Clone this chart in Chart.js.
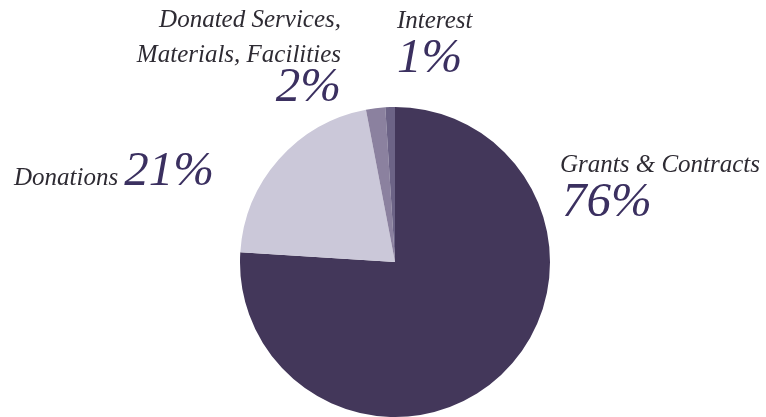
<!DOCTYPE html>
<html>
<head>
<meta charset="utf-8">
<script src="https://cdn.jsdelivr.net/npm/chart.js@4"></script>
<style>
  html, body { margin: 0; padding: 0; background: #ffffff; }
  #wrap { width: 766px; height: 417px; position: relative; }
</style>
</head>
<body>
<div id="wrap"><canvas id="pie"></canvas></div>
<script>
// Revenue sources, clockwise from 12 o'clock
const categories = ['Grants & Contracts', 'Donations', 'Donated Services, Materials, Facilities', 'Interest'];
const shares = [76, 21, 2, 1];
const sliceColors = ['#43375a', '#cbc8d9', '#8b819f', '#6c6386'];

// Label text: name lines and percent text, placed by hand like the print layout
const labelSpots = [
    { lines: ['Grants & Contracts'], pct: '76%', x: 560, y: 172, align: 'left', pctY: 216, pctX: 562 },
    { lines: ['Donations'], pct: '21%', x: 14, y: 185, align: 'left', inline: true },
    { lines: ['Donated Services,', 'Materials, Facilities'], pct: '2%', x: 341, y: 27, align: 'right', pctY: 101 },
    { lines: ['Interest'], pct: '1%', x: 397, y: 28, align: 'left', pctY: 72, pctX: 397 }
];

const nameFont = 'italic 25px "Liberation Serif", "DejaVu Serif", serif';
const pctFont = 'italic 49px "Liberation Serif", "DejaVu Serif", serif';

const labelPlugin = {
    id: 'sliceLabels',
    afterDraw: function (chart) {
        const ctx = chart.ctx;
        ctx.save();
        ctx.textBaseline = 'alphabetic';
        labelSpots.forEach(function (spot) {
            ctx.font = nameFont;
            ctx.fillStyle = '#2e2b33';
            ctx.textAlign = spot.align;
            spot.lines.forEach(function (line, i) {
                ctx.fillText(line, spot.x, spot.y + i * 35);
            });
            ctx.fillStyle = '#3b3060';
            if (spot.inline) {
                const w = ctx.measureText(spot.lines[0]).width;
                ctx.font = pctFont;
                ctx.textAlign = 'left';
                ctx.fillText(spot.pct, spot.x + w + 6, spot.y);
            } else {
                ctx.font = pctFont;
                ctx.fillText(spot.pct, spot.pctX || spot.x, spot.pctY);
            }
        });
        ctx.restore();
    }
};

new Chart(document.getElementById('pie').getContext('2d'), {
    type: 'pie',
    data: {
        labels: categories,
        datasets: [{
            data: shares,
            backgroundColor: sliceColors,
            borderWidth: 0
        }]
    },
    options: {
        responsive: true,
        maintainAspectRatio: false,
        animation: false,
        devicePixelRatio: 1,
        layout: {
            padding: { left: 240, right: 216, top: 107, bottom: 0 }
        },
        plugins: {
            legend: { display: false },
            tooltip: { enabled: false },
            title: { display: false }
        }
    },
    plugins: [labelPlugin]
});
</script>
</body>
</html>
